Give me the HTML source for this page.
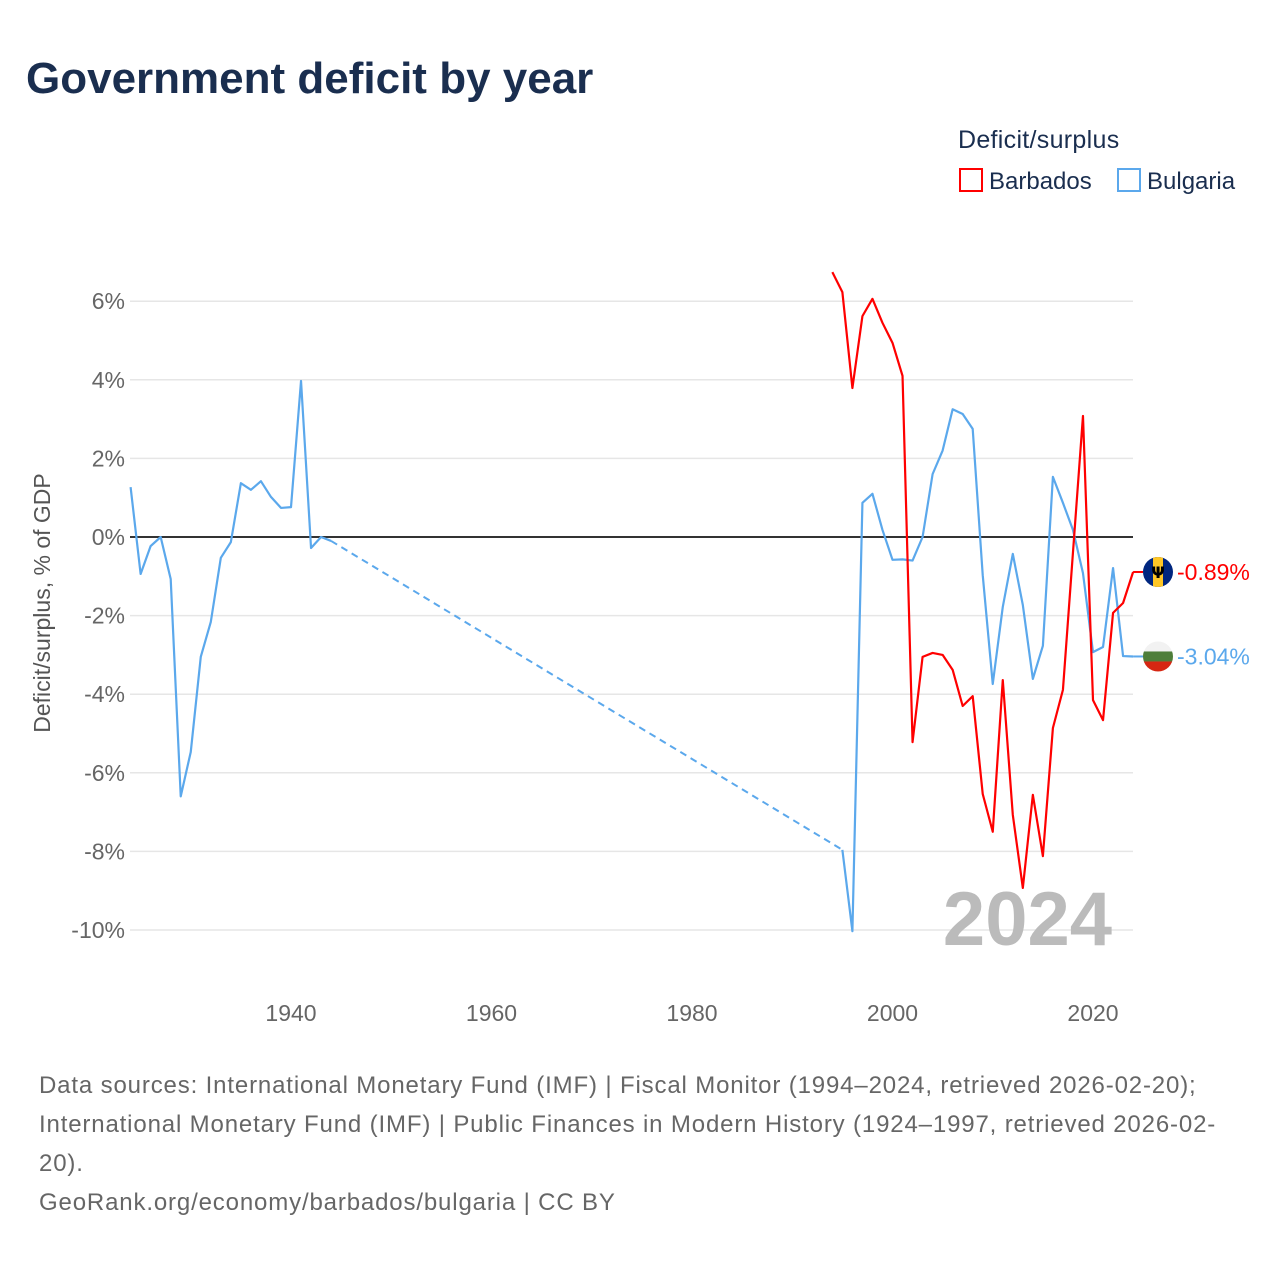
<!DOCTYPE html>
<html><head><meta charset="utf-8"><style>
body{margin:0;background:#fff;font-family:"Liberation Sans",sans-serif;}
#wrap{position:relative;width:1280px;height:1280px;overflow:hidden;}
</style></head><body>
<div id="wrap">
<svg id="chart" width="1280" height="1280" style="position:absolute;left:0;top:0">
<text x="26" y="93" font-size="44" font-weight="bold" fill="#1a2e4f">Government deficit by year</text>
<text x="958" y="148" font-size="25" fill="#1a2e4f" letter-spacing="0.3">Deficit/surplus</text>
<g><rect x="960" y="169" width="22" height="22" fill="none" stroke="#f00" stroke-width="2"/><text x="989" y="189" font-size="24" fill="#1a2e4f">Barbados</text></g>
<g><rect x="1118" y="169" width="22" height="22" fill="none" stroke="#5ba8ec" stroke-width="2"/><text x="1147" y="189" font-size="24" fill="#1a2e4f">Bulgaria</text></g>
<text transform="translate(50,603) rotate(-90)" text-anchor="middle" font-size="23" fill="#555">Deficit/surplus, % of GDP</text>
<g id="grid"></g><g id="series"></g>
<text x="1112" y="945" text-anchor="end" font-size="76" font-weight="bold" fill="#bbb">2024</text>
<g id="labels"></g>
<text font-size="24" fill="#666" letter-spacing="0.85"><tspan x="39" y="1093">Data sources: International Monetary Fund (IMF) | Fiscal Monitor (1994–2024, retrieved 2026-02-20);</tspan><tspan x="39" y="1132">International Monetary Fund (IMF) | Public Finances in Modern History (1924–1997, retrieved 2026-02-</tspan><tspan x="39" y="1171">20).</tspan><tspan x="39" y="1210">GeoRank.org/economy/barbados/bulgaria | CC BY</tspan></text>
</svg>
</div>
<script>
const yTicks=[6,4,2,0,-2,-4,-6,-8,-10];
const xTicks=[1940,1960,1980,2000,2020];
const bgYears=[1924,1925,1926,1927,1928,1929,1930,1931,1932,1933,1934,1935,1936,1937,1938,1939,1940,1941,1942,1943,1944,1995,1996,1997,1998,1999,2000,2001,2002,2003,2004,2005,2006,2007,2008,2009,2010,2011,2012,2013,2014,2015,2016,2017,2018,2019,2020,2021,2022,2023,2024];
const bgVals=[1.27,-0.94,-0.23,0,-1.07,-6.6,-5.47,-3.05,-2.16,-0.53,-0.13,1.37,1.2,1.42,1.02,0.74,0.76,3.97,-0.28,0,-0.1,-7.96,-10.03,0.87,1.1,0.18,-0.58,-0.57,-0.6,0,1.6,2.2,3.25,3.13,2.75,-0.97,-3.74,-1.78,-0.43,-1.73,-3.61,-2.77,1.53,0.87,0.18,-0.92,-2.93,-2.8,-0.79,-3.03,-3.04];
const bbYears=[1994,1995,1996,1997,1998,1999,2000,2001,2002,2003,2004,2005,2006,2007,2008,2009,2010,2011,2012,2013,2014,2015,2016,2017,2018,2019,2020,2021,2022,2023,2024];
const bbVals=[6.74,6.23,3.79,5.62,6.06,5.45,4.94,4.1,-5.22,-3.05,-2.95,-3.0,-3.38,-4.3,-4.05,-6.54,-7.5,-3.64,-7.07,-8.93,-6.56,-8.12,-4.86,-3.89,-0.4,3.08,-4.15,-4.66,-1.93,-1.68,-0.89];
const NS='http://www.w3.org/2000/svg';
const X=y=>130.6+(y-1924)*10.025;
const Y=v=>537-v*39.3;
function mk(tag,attrs,parent){const e=document.createElementNS(NS,tag);for(const k in attrs)e.setAttribute(k,attrs[k]);parent.appendChild(e);return e;}
const grid=document.getElementById('grid'),ser=document.getElementById('series'),lab=document.getElementById('labels');
yTicks.forEach(t=>{
 if(t!==0){const l=mk('line',{x1:130,x2:1133,y1:Y(t),y2:Y(t),stroke:'#e6e6e6','stroke-width':1.5},grid);
 
 }
 const tx=mk('text',{x:125,y:Y(t)+8,'text-anchor':'end','font-size':23,fill:'#666'},grid);tx.textContent=t+'%';
 
 
});
xTicks.forEach(t=>{const tx=mk('text',{x:X(t),y:1021,'text-anchor':'middle','font-size':23,fill:'#666'},grid);tx.textContent=t;
 
 });
const zl=mk('line',{x1:130,x2:1133,y1:Y(0),y2:Y(0),stroke:'#333','stroke-width':2},grid);


function draw(years,vals,color,name){
 let d='';
 for(let i=0;i<years.length;i++){
  if(i>0&&years[i]-years[i-1]>1){
   const dl=mk('line',{x1:X(years[i-1]),y1:Y(vals[i-1]),x2:X(years[i]),y2:Y(vals[i]),stroke:color,'stroke-width':2,'stroke-dasharray':'7,5'},ser);
   
   
   d+='M'+X(years[i])+','+Y(vals[i]);
  } else d+=(i?'L':'M')+X(years[i])+','+Y(vals[i]);
 }
 const p=mk('path',{d:d,fill:'none',stroke:color,'stroke-width':2.2,'stroke-linejoin':'round'},ser);
 
 
}
draw(bgYears,bgVals,'#5ba8ec','bulgaria');
draw(bbYears,bbVals,'#ff0000','barbados');
function endLabel(years,vals,color,name,flag){
 const yy=Y(vals[vals.length-1]),xx=X(years[years.length-1]);
 mk('line',{x1:xx,x2:1143,y1:yy,y2:yy,stroke:color,'stroke-width':2},lab);
 const g=mk('g',{},lab);
 
 
 const cx=1158,r=15;
 const cp=mk('clipPath',{id:'c'+name},g);
 mk('circle',{cx:cx,cy:yy,r:r},cp);
 const f=mk('g',{'clip-path':'url(#c'+name+')'},g);
 if(flag==='bb'){
  mk('rect',{x:cx-r,y:yy-r,width:2*r,height:2*r,fill:'#00267f'},f);
  mk('rect',{x:cx-r/3,y:yy-r,width:2*r/3,height:2*r,fill:'#ffc726'},f);
  const t=mk('text',{x:cx,y:yy+6,'text-anchor':'middle','font-size':16,'font-weight':'bold',fill:'#000',"font-family":"DejaVu Sans"},f);t.textContent='Ψ';
 } else {
  mk('rect',{x:cx-r,y:yy-r,width:2*r,height:2*r/3,fill:'#f2f2f2'},f);
  mk('rect',{x:cx-r,y:yy-r/3,width:2*r,height:2*r/3,fill:'#4e7e3a'},f);
  mk('rect',{x:cx-r,y:yy+r/3,width:2*r,height:2*r/3,fill:'#d62612'},f);
 }
 const t=mk('text',{x:1177,y:yy+8,'font-size':23,fill:color},lab);
 t.textContent=vals[vals.length-1].toFixed(2)+'%';
 
 
}
endLabel(bbYears,bbVals,'#ff0000','barbados','bb');
endLabel(bgYears,bgVals,'#5ba8ec','bulgaria','bg');
</script>
</body></html>
